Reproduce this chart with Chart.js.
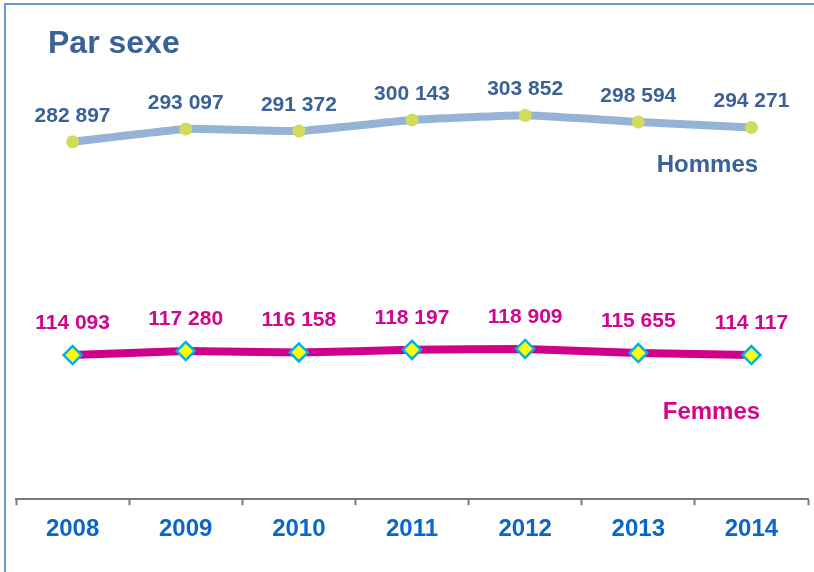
<!DOCTYPE html>
<html>
<head>
<meta charset="utf-8">
<script src="https://cdn.jsdelivr.net/npm/chart.js@4.4.1/dist/chart.umd.min.js"></script>
<style>
  html, body { margin: 0; padding: 0; background: #fff; }
  #wrap { position: relative; width: 814px; height: 572px; }
  #myChart { display: block; }
  #frame { position: absolute; left: 4px; top: 3px; right: 0; bottom: 0;
           border-top: 2px solid #6a98d4; border-left: 2px solid #6a98d4; }
  #title { position: absolute; left: 48px; top: 24px; margin: 0;
           font: bold 32px "Liberation Sans", Arial, sans-serif; color: #3a6296; }
</style>
</head>
<body>
<div id="wrap">
  <canvas id="myChart" width="814" height="572" style="position:absolute;left:0;top:0"></canvas>
  <div id="frame"></div>
  <h1 id="title">Par sexe</h1>
</div>
<script>
var years = ['2008', '2009', '2010', '2011', '2012', '2013', '2014'];
var hommes = [282897, 293097, 291372, 300143, 303852, 298594, 294271];
var femmes = [114093, 117280, 116158, 118197, 118909, 115655, 114117];
var seriesNames = ['Hommes', 'Femmes'];

function fmt(v) {
    return String(v).replace(/\B(?=(\d{3})+(?!\d))/g, ' ');
}

// draws the value above each point and the series name under the last point
var labelsPlugin = {
    id: 'labels',
    afterDatasetsDraw: function(chart) {
        var ctx = chart.ctx;
        ctx.save();
        chart.data.datasets.forEach(function(ds, i) {
            var meta = chart.getDatasetMeta(i);
            ctx.fillStyle = ds.labelColor;
            ctx.textAlign = 'center';
            ctx.textBaseline = 'middle';
            ctx.font = 'bold 21px "Liberation Sans", Arial, sans-serif';
            meta.data.forEach(function(pt, j) {
                ctx.fillText(fmt(ds.data[j]), pt.x, pt.y - ds.labelLift);
            });
            var last = meta.data[meta.data.length - 1];
            ctx.font = 'bold 24px "Liberation Sans", Arial, sans-serif';
            ctx.fillText(ds.label, last.x + ds.nameDx, last.y + ds.nameDy);
        });
        ctx.restore();
    }
};

var ctx = document.getElementById('myChart');

var chart = new Chart(ctx, {
    type: 'line',
    data: {
        labels: years,
        datasets: [
            {
                label: seriesNames[0],
                data: hommes,
                borderColor: '#95b3d7',
                borderWidth: 8,
                pointStyle: 'circle',
                pointRadius: 6.5,
                pointBackgroundColor: '#d2dc5c',
                pointBorderWidth: 0,
                tension: 0.1,
                labelColor: '#3a6296',
                labelLift: 26,
                nameDx: -44,
                nameDy: 38
            },
            {
                label: seriesNames[1],
                data: femmes,
                borderColor: '#d0008a',
                borderWidth: 8,
                pointStyle: 'rectRot',
                pointRadius: 9,
                pointBackgroundColor: '#ffff00',
                pointBorderColor: '#00b0f0',
                pointBorderWidth: 2.5,
                tension: 0.1,
                labelColor: '#d0068c',
                labelLift: 32,
                nameDx: -40,
                nameDy: 57
            }
        ]
    },
    options: {
        responsive: false,
        animation: false,
        clip: false,
        layout: { autoPadding: false, padding: { left: 16, right: 6, top: 57, bottom: 18 } },
        plugins: {
            legend: { display: false },
            tooltip: { enabled: false }
        },
        scales: {
            x: {
                offset: true,
                border: { display: true, color: '#7a7a7a', width: 2 },
                grid: {
                    offset: true,
                    drawOnChartArea: false,
                    drawTicks: true,
                    tickLength: 6,
                    tickWidth: 2,
                    tickColor: '#7a7a7a'
                },
                ticks: {
                    padding: 10,
                    color: '#0a66c8',
                    font: { family: '"Liberation Sans", Arial, sans-serif', size: 24, weight: 'bold' }
                }
            },
            y: {
                display: false,
                min: 0,
                max: 350000
            }
        }
    },
    plugins: [labelsPlugin]
});
</script>
</body>
</html>
